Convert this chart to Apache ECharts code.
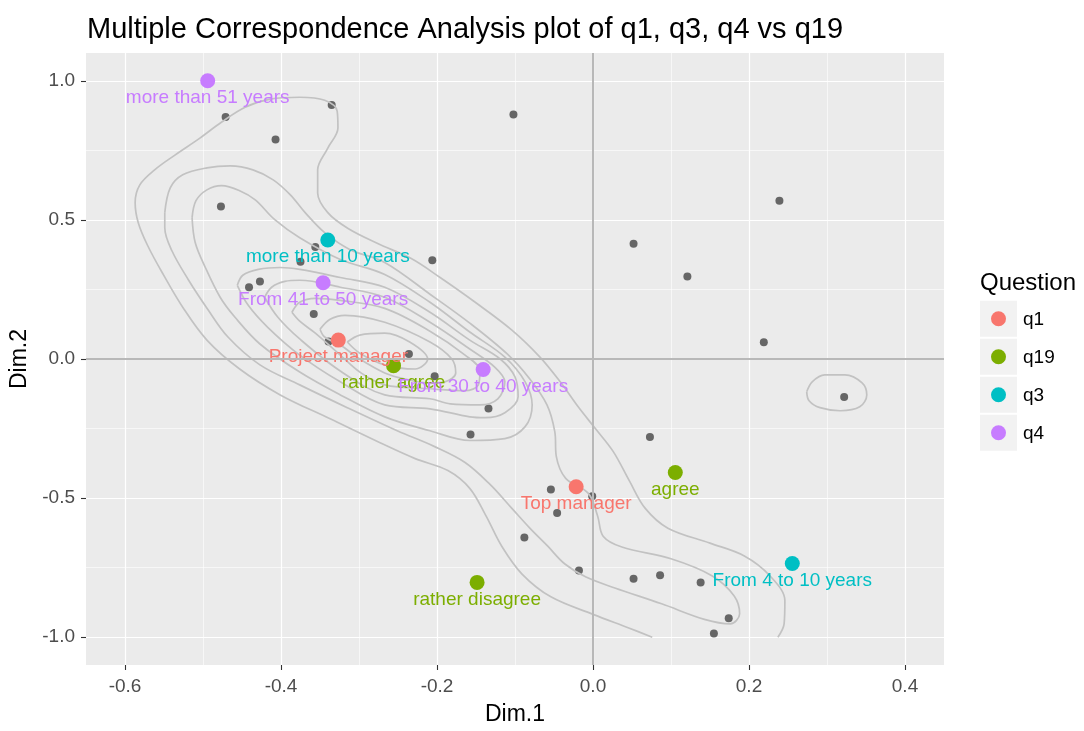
<!DOCTYPE html>
<html><head><meta charset="utf-8">
<script src="https://cdn.jsdelivr.net/npm/echarts@6.0.0/dist/echarts.min.js"></script>
<style>html,body{margin:0;padding:0;background:#fff}#c{width:1084px;height:731px}</style>
</head><body><div id="c"></div>
<script>
const FONT = '"Liberation Sans", Arial, Helvetica, sans-serif';

// Individuals (gray points)
const indDim1 = [-0.471,-0.335,-0.407,-0.102,-0.477,-0.356,-0.375,-0.206,-0.427,-0.441,-0.358,-0.339,-0.236,-0.203,-0.134,-0.157,0.052,0.121,0.239,0.219,0.322,0.073,-0.054,-0.046,-0.001,-0.088,-0.018,0.052,0.086,0.138,0.174,0.155];
const indDim2 = [0.870,0.913,0.789,0.879,0.548,0.403,0.350,0.355,0.279,0.258,0.162,0.063,0.018,-0.062,-0.178,-0.271,0.414,0.297,0.569,0.060,-0.137,-0.280,-0.469,-0.554,-0.493,-0.642,-0.760,-0.790,-0.777,-0.803,-0.932,-0.987];

// Category points by question
const questions = ['q1','q19','q3','q4'];
const questionColors = ['#F8766D','#7CAE00','#00BFC4','#C77CFF'];
const catLabels = [
  ['Project manager','Top manager'],
  ['rather agree','agree','rather disagree'],
  ['more than 10 years','From 4 to 10 years'],
  ['more than 51 years','From 41 to 50 years','From 30 to 40 years']
];
const catDim1 = [[-0.3265,-0.0216],[-0.2557,0.1055,-0.1486],[-0.340,0.2555],[-0.494,-0.346,-0.1408]];
const catDim2 = [[0.068,-0.459],[-0.024,-0.408,-0.803],[0.428,-0.735],[1.0,0.274,-0.038]];

// Density contour lines of the individuals (Dim.1, Dim.2)
const contourOuter = [[0.076,-1.0],[0.045,-0.966],[0.001,-0.919],[-0.054,-0.855],[-0.091,-0.773],[-0.117,-0.673],[-0.137,-0.565],[-0.158,-0.465],[-0.186,-0.401],[-0.228,-0.358],[-0.273,-0.301],[-0.337,-0.215],[-0.401,-0.129],[-0.453,-0.036],[-0.495,0.068],[-0.526,0.186],[-0.551,0.304],[-0.571,0.408],[-0.583,0.490],[-0.587,0.562],[-0.581,0.626],[-0.562,0.680],[-0.536,0.733],[-0.504,0.794],[-0.476,0.852],[-0.446,0.905],[-0.414,0.934],[-0.376,0.941],[-0.344,0.930],[-0.328,0.891],[-0.327,0.830],[-0.340,0.758],[-0.353,0.680],[-0.353,0.597],[-0.340,0.526],[-0.314,0.469],[-0.276,0.415],[-0.233,0.361],[-0.196,0.293],[-0.151,0.204],[-0.104,0.104],[-0.068,0.007],[-0.042,-0.082],[-0.019,-0.172],[0.003,-0.250],[0.026,-0.333],[0.047,-0.440],[0.067,-0.537],[0.096,-0.608],[0.150,-0.662],[0.194,-0.708],[0.227,-0.780],[0.246,-0.869],[0.245,-0.952],[0.237,-1.0]];
const contour2 = [[-0.549,0.526],[-0.542,0.615],[-0.526,0.662],[-0.495,0.687],[-0.465,0.694],[-0.436,0.680],[-0.410,0.644],[-0.388,0.590],[-0.369,0.526],[-0.344,0.454],[-0.312,0.394],[-0.267,0.347],[-0.209,0.233],[-0.158,0.129],[-0.110,0.018],[-0.081,-0.072],[-0.059,-0.165],[-0.049,-0.261],[-0.047,-0.351],[-0.035,-0.429],[-0.006,-0.483],[0.006,-0.565],[0.013,-0.637],[0.037,-0.676],[0.101,-0.719],[0.153,-0.780],[0.181,-0.852],[0.188,-0.916],[0.176,-0.952],[0.144,-0.937],[0.088,-0.880],[0.028,-0.823],[-0.009,-0.784],[-0.036,-0.737],[-0.058,-0.673],[-0.081,-0.608],[-0.104,-0.537],[-0.132,-0.451],[-0.164,-0.372],[-0.203,-0.315],[-0.251,-0.258],[-0.315,-0.175],[-0.376,-0.093],[-0.427,-0.021],[-0.468,0.079],[-0.494,0.179],[-0.519,0.286],[-0.540,0.390],[-0.549,0.472],[-0.549,0.526]];
const contour3 = [[-0.514,0.508],[-0.509,0.569],[-0.495,0.608],[-0.476,0.623],[-0.453,0.605],[-0.433,0.572],[-0.408,0.501],[-0.376,0.436],[-0.324,0.358],[-0.267,0.304],[-0.209,0.204],[-0.158,0.097],[-0.113,0.007],[-0.087,-0.082],[-0.078,-0.165],[-0.087,-0.243],[-0.113,-0.286],[-0.158,-0.293],[-0.209,-0.258],[-0.267,-0.208],[-0.324,-0.129],[-0.376,-0.047],[-0.427,0.054],[-0.459,0.150],[-0.478,0.222],[-0.497,0.329],[-0.510,0.419],[-0.514,0.508]];
const contour4 = [[-0.456,0.265],[-0.449,0.301],[-0.429,0.322],[-0.401,0.329],[-0.376,0.322],[-0.324,0.293],[-0.267,0.258],[-0.209,0.168],[-0.158,0.068],[-0.119,0],[-0.100,-0.064],[-0.096,-0.136],[-0.113,-0.193],[-0.138,-0.211],[-0.158,-0.208],[-0.209,-0.179],[-0.267,-0.165],[-0.324,-0.082],[-0.376,0.014],[-0.417,0.114],[-0.442,0.193],[-0.456,0.265]];
const contour5 = [[-0.421,0.222],[-0.412,0.258],[-0.395,0.279],[-0.376,0.283],[-0.324,0.258],[-0.267,0.222],[-0.209,0.132],[-0.158,0.036],[-0.126,-0.029],[-0.113,-0.082],[-0.122,-0.143],[-0.145,-0.165],[-0.183,-0.161],[-0.209,-0.143],[-0.267,-0.129],[-0.324,-0.043],[-0.376,0.072],[-0.404,0.150],[-0.421,0.222]];
const contour6 = [[-0.386,0.168],[-0.376,0.204],[-0.356,0.218],[-0.324,0.211],[-0.267,0.182],[-0.209,0.100],[-0.164,0.014],[-0.145,-0.043],[-0.147,-0.093],[-0.164,-0.114],[-0.209,-0.107],[-0.267,-0.093],[-0.299,-0.047],[-0.324,0.014],[-0.356,0.093],[-0.376,0.136],[-0.386,0.168]];
const contour7 = [[-0.350,0.107],[-0.337,0.143],[-0.318,0.157],[-0.267,0.132],[-0.209,0.061],[-0.181,0],[-0.176,-0.050],[-0.190,-0.082],[-0.209,-0.086],[-0.241,-0.072],[-0.267,-0.050],[-0.299,0],[-0.324,0.050],[-0.344,0.079],[-0.350,0.107]];
const contourInner = [[-0.315,0.061],[-0.299,0.086],[-0.267,0.093],[-0.235,0.061],[-0.212,0],[-0.228,-0.036],[-0.267,-0.021],[-0.299,0.021],[-0.315,0.061]];
const contourIsland = [[0.274,-0.118],[0.281,-0.082],[0.297,-0.057],[0.323,-0.057],[0.345,-0.086],[0.351,-0.129],[0.342,-0.172],[0.317,-0.186],[0.291,-0.175],[0.277,-0.150],[0.274,-0.118]];

// Axis ticks
const xMajor = [-0.6,-0.4,-0.2,0,0.2,0.4];
const xMinor = [-0.5,-0.3,-0.1,0.1,0.3];
const yMajor = [-1,-0.5,0,0.5,1];
const yMinor = [-0.75,-0.25,0.25,0.75];

const fmt=v=>v.toFixed(1);
const tickLabel={color:'#4D4D4D',fontSize:19,fontFamily:FONT};

const series=[
  {type:'scatter',data:[],silent:true,z:1,
   markLine:{silent:true,symbol:'none',animation:false,label:{show:false},
     lineStyle:{color:'#B8B8B8',width:2,type:'solid'},data:[{xAxis:0},{yAxis:0}]}},
  {type:'scatter',name:'individuals',z:2,symbolSize:8,itemStyle:{color:'#666666',opacity:1},
   data:indDim1.map((x,i)=>[x,indDim2[i]])}
];
[contourOuter,contour2,contour3,contour4,contour5,contour6,contour7,contourInner,contourIsland].forEach(c=>{
  series.push({type:'line',z:3,silent:true,data:c,showSymbol:false,symbol:'none',smooth:0.35,
    lineStyle:{color:'#C2C2C2',width:1.7}});
});
questions.forEach((q,k)=>{
  series.push({type:'scatter',name:q,z:4,symbolSize:15,itemStyle:{color:questionColors[k],opacity:1},
    data:catLabels[k].map((lab,i)=>({name:lab,value:[catDim1[k][i],catDim2[k][i]]})),
    label:{show:true,position:'inside',offset:[0,17],formatter:'{b}',color:questionColors[k],fontSize:19,fontFamily:FONT}});
});

const legendGraphics=[{type:'text',left:980,top:271,style:{text:'Question',fontSize:24,fontFamily:FONT,fill:'#000'}}];
questions.forEach((q,k)=>{
  const cy=318.7+38*k;
  legendGraphics.push({type:'rect',shape:{x:980,y:cy-18,width:37,height:36},style:{fill:'#F2F2F2'}});
  legendGraphics.push({type:'circle',shape:{cx:998.5,cy:cy,r:7.5},style:{fill:questionColors[k]}});
  legendGraphics.push({type:'text',x:1023,y:cy+1,style:{text:q,fontSize:19,fontFamily:FONT,fill:'#000',verticalAlign:'middle',align:'left'}});
});

const chart=echarts.init(document.getElementById('c'),null,{renderer:'canvas'});
chart.setOption({
  animation:false,
  backgroundColor:'#fff',
  title:{text:'Multiple Correspondence Analysis plot of q1, q3, q4 vs q19',left:82,top:10,
    textStyle:{fontSize:29,fontWeight:'normal',color:'#000',fontFamily:FONT}},
  grid:{left:86,right:140,top:53,bottom:63,show:true,backgroundColor:'#EBEBEB',borderWidth:0},
  xAxis:[
    {type:'value',min:-0.65,max:0.45,position:'bottom',axisLine:{show:false,onZero:false},
     axisTick:{show:true,length:5,lineStyle:{color:'#333',width:1.1},customValues:xMajor},
     axisLabel:Object.assign({customValues:xMajor,formatter:fmt,margin:12},tickLabel),
     splitLine:{show:true,lineStyle:{color:'#fff',width:1.2}},
     name:'Dim.1',nameLocation:'middle',nameGap:38,nameTextStyle:{fontSize:23,color:'#000',fontFamily:FONT}},
    {type:'value',min:-0.65,max:0.45,position:'bottom',axisLine:{show:false,onZero:false},
     axisTick:{show:false,customValues:xMinor},axisLabel:{show:false},
     splitLine:{show:true,lineStyle:{color:'#fff',width:0.6}}}
  ],
  yAxis:[
    {type:'value',min:-1.1,max:1.1,position:'left',axisLine:{show:false,onZero:false},
     axisTick:{show:true,length:5,lineStyle:{color:'#333',width:1.1},customValues:yMajor},
     axisLabel:Object.assign({customValues:yMajor,formatter:fmt,margin:11},tickLabel),
     splitLine:{show:true,lineStyle:{color:'#fff',width:1.2}},
     name:'Dim.2',nameLocation:'middle',nameRotate:90,nameGap:46,nameTextStyle:{fontSize:23,color:'#000',fontFamily:FONT}},
    {type:'value',min:-1.1,max:1.1,position:'left',axisLine:{show:false,onZero:false},
     axisTick:{show:false,customValues:yMinor},axisLabel:{show:false},
     splitLine:{show:true,lineStyle:{color:'#fff',width:0.6}}}
  ],
  graphic:legendGraphics,
  series:series
});
</script></body></html>
